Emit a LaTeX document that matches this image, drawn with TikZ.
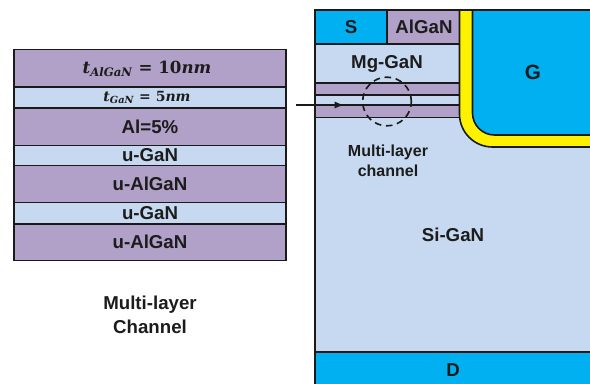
\documentclass[tikz,border=0pt]{standalone}
\usepackage{amsmath, amssymb}
\usepackage{fontspec}
\setmainfont{Liberation Sans}
\newfontfamily\thickfont{DejaVu Serif}
\usepackage{xcolor}
\usetikzlibrary{calc, positioning}

\definecolor{algancol}{HTML}{B1A0C7}
\definecolor{gancol}{HTML}{C6D9F1}
\definecolor{metalcol}{HTML}{00B0F0}
\definecolor{linecol}{HTML}{1A1A1A}
\definecolor{textcol}{HTML}{1C1C1C}

\tikzset{
    layerbox/.style={draw=linecol, line width=1.2pt},
    alganbox/.style={layerbox, fill=algancol},
    ganbox/.style={layerbox, fill=gancol},
    metalbox/.style={layerbox, fill=metalcol},
    bigtext/.style={text=textcol, font=\fontsize{14}{16}\selectfont\bfseries},
    smalltext/.style={text=textcol, font=\fontsize{12}{15}\selectfont\bfseries, align=center},
    thicktext/.style={text=textcol, font=\thickfont\bfseries\itshape}
}

\begin{document}
\begin{tikzpicture}[>=latex, x=0.75pt, y=-0.75pt]
    \useasboundingbox (0,0) rectangle (590,383);

    % 1. Left stack of layers
    \draw[alganbox] (14,49.5) rectangle (286,87);
    \draw[ganbox] (14,87) rectangle (286,108);
    \draw[alganbox] (14,108) rectangle (286,145.5);
    \draw[ganbox] (14,145.5) rectangle (286,165.5);
    \draw[alganbox] (14,165.5) rectangle (286,202.5);
    \draw[ganbox] (14,202.5) rectangle (286,224);
    \draw[alganbox] (14,224) rectangle (286,260.5);
    \node[thicktext] (tAlGaN) at (147,69) {\fontsize{12.5}{14}\selectfont t\textsubscript{AlGaN} {\upshape = 10}nm};
    \node[thicktext] (tGaN) at (147,97.5) {\fontsize{10.5}{12}\selectfont t\textsubscript{GaN} {\upshape = 5}nm};
    \node[bigtext] (alPct) at (150,127) {Al=5\%};
    \node[bigtext] (uGaNa) at (150,155.5) {u-GaN};
    \node[bigtext] (uAlGaNa) at (150,184) {u-AlGaN};
    \node[bigtext] (uGaNb) at (150,213) {u-GaN};
    \node[bigtext] (uAlGaNb) at (150,242) {u-AlGaN};
    \node[bigtext, align=center] (stackLabel) at (150,315) {Multi-layer\\[2pt]Channel};

    % 2. Device body, source and cap
    \draw[ganbox] (315,10) rectangle (600,352);
    \draw[metalbox] (315,10) rectangle (387,44);
    \draw[alganbox] (387,10) rectangle (459.5,44);
    \draw[ganbox] (315,44) rectangle (459.5,83);
    \node[bigtext] (source) at (351,27) {S};
    \node[bigtext] (cap) at (424,27) {AlGaN};
    \node[bigtext] (mgGaN) at (387,64) {Mg-GaN};

    % 3. Channel layers below the Mg-GaN
    \draw[alganbox] (315,83) rectangle (459.5,95);
    \draw[ganbox] (315,95) rectangle (459.5,105);
    \draw[alganbox] (315,105) rectangle (459.5,117.5);

    % 4. Gate oxide and gate with rounded corner
    \draw[layerbox, fill=yellow] (459.5,10) -- (459.5,114) arc[start angle=180, end angle=90, radius=33] -- (610,147) -- (610,10) -- cycle;
    \draw[metalbox] (472.5,10) -- (472.5,113) arc[start angle=180, end angle=90, radius=22] -- (610,135) -- (610,10) -- cycle;
    \node[bigtext, font=\fontsize{15.5}{17}\selectfont\bfseries] (gate) at (533,72) {G};

    % 5. Drain and the remaining labels
    \draw[metalbox] (315,352) rectangle (600,390);
    \node[bigtext] (drain) at (453,370) {D};
    \node[bigtext] (siGaN) at (453,235) {Si-GaN};
    \node[smalltext] (chanLabel) at (388,161) {Multi-layer\\channel};

    % 6. Dashed circle and arrow from the stack
    \node[circle, draw=linecol, dash pattern=on 5pt off 3.5pt, line width=1.2pt, minimum size=36.5pt, inner sep=0pt] (chanCircle) at (387,101.5) {};
    \coordinate (arrowStart) at (296,105);
    \coordinate (arrowEnd) at (344,105);
    \draw[->, linecol, line width=1.4pt] (arrowStart) -- (arrowEnd);
\end{tikzpicture}
\end{document}
